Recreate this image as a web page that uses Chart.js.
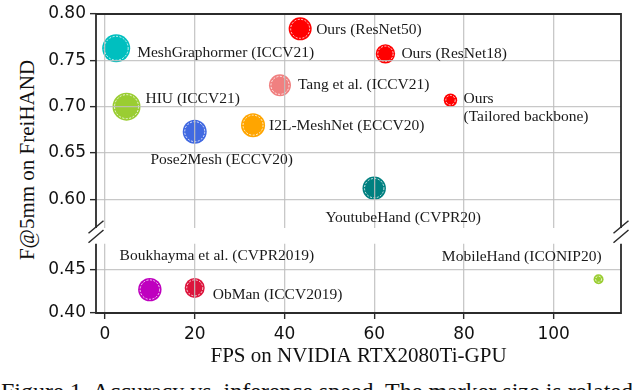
<!DOCTYPE html>
<html><head><meta charset="utf-8">
<script src="https://cdn.jsdelivr.net/npm/chart.js@4/dist/chart.umd.min.js"></script>
<style>
html,body{margin:0;padding:0;background:#fff;width:640px;height:390px;overflow:hidden;position:relative;}
#topWrap{position:absolute;left:0;top:0;width:640px;height:250px;z-index:2;}
#botWrap{position:absolute;left:0;top:232px;width:640px;height:158px;z-index:1;}
#ytitle{position:absolute;left:27px;top:160px;transform:translate(-50%,-50%) rotate(-90deg);font-family:"Liberation Serif";font-size:21px;line-height:24px;white-space:nowrap;color:#111;}
#caption{position:absolute;left:1px;top:379px;font-family:"Liberation Serif";font-size:24px;line-height:24px;white-space:nowrap;color:#111;}
</style></head>
<body>
<div id="topWrap"><canvas id="topChart"></canvas></div>
<div id="botWrap"><canvas id="botChart"></canvas></div>
<div id="ytitle">F@5mm on FreiHAND</div>
<div id="caption">Figure 1. Accuracy vs. inference speed. The marker size is related</div>
<script>
// ---- data ----
const methods = ['Ours (ResNet50)', 'Ours (ResNet18)', ['Ours', '(Tailored backbone)'], 'MeshGraphormer (ICCV21)',
  'Tang et al. (ICCV21)', 'HIU (ICCV21)', 'Pose2Mesh (ECCV20)', 'I2L-MeshNet (ECCV20)', 'YoutubeHand (CVPR20)',
  'Boukhayma et al. (CVPR2019)', 'ObMan (ICCV2019)', 'MobileHand (ICONIP20)'];
const fps = [43.5, 62.5, 77, 2.5, 39, 4.8, 20, 33, 60, 10, 20, 110];
const f5mm = [0.784, 0.757, 0.707, 0.763, 0.723, 0.700, 0.673, 0.680, 0.612, 0.427, 0.429, 0.439];
const xTicks = [0, 20, 40, 60, 80, 100];
const yTicksTop = [0.60, 0.65, 0.70, 0.75, 0.80];
const yTicksBottom = [0.40, 0.45];
const breakValue = 0.5;
const xTitle = 'FPS on NVIDIA RTX2080Ti-GPU';

// ---- styles ----
const colors = ['#ff0000', '#ff0000', '#ff0000', '#00bfbf', '#f08080', '#9acd32', '#4169e1', '#ffa500', '#008080', '#bf00bf', '#dc143c', '#9acd32'];
const markerR = [11.5, 9.7, 6.7, 14, 11, 14, 12, 12, 11.7, 11.7, 10, 5];
const labelOffsets = [[16, 1, 'left'], [16, 0, 'left'], [13, -1, 'left'], [21, 5, 'left'], [18, 0, 'left'], [19, -8, 'left'],
  [27, 28, 'center'], [16, 1, 'left'], [29, 30, 'center'], [67, -34, 'center'], [18, 7.5, 'left'], [3, -22.6, 'right']];
const tickFont = {family: 'DejaVu Sans', size: 17};
const labelFont = '15.5px "Liberation Serif"';
const spineColor = '#2b2b2b';
const gridColor = 'rgba(190,190,190,0.85)';

const decor = {
  id: 'decor',
  afterDatasetsDraw(chart) {
    const ctx = chart.ctx;
    const meta = chart.getDatasetMeta(0);
    const idx = chart.options.plugins.decor.idx;
    ctx.save();
    meta.data.forEach((el, k) => {
      const r = markerR[idx[k]];
      ctx.beginPath();
      ctx.setLineDash([2, 1.5]);
      ctx.lineWidth = 0.9;
      ctx.strokeStyle = 'rgba(255,255,255,0.9)';
      ctx.arc(el.x, el.y, Math.max(r - 2, 1.5), 0, Math.PI * 2);
      ctx.stroke();
    });
    ctx.restore();
  },
  afterDraw(chart) {
    const o = chart.options.plugins.decor;
    const ctx = chart.ctx;
    const a = chart.chartArea;
    ctx.save();
    ctx.strokeStyle = spineColor;
    ctx.lineWidth = 1.8;
    ctx.setLineDash([]);
    ctx.beginPath();
    ctx.moveTo(a.left, a.top); ctx.lineTo(a.left, a.bottom);
    ctx.moveTo(a.right, a.top); ctx.lineTo(a.right, a.bottom);
    if (o.top) { ctx.moveTo(a.left - 0.9, a.top); ctx.lineTo(a.right + 0.9, a.top); }
    if (o.bottom) { ctx.moveTo(a.left - 0.9, a.bottom); ctx.lineTo(a.right + 0.9, a.bottom); }
    ctx.stroke();
    if (o.breaks) {
      ctx.lineWidth = 1.5;
      ctx.beginPath();
      [a.left, a.right].forEach(xc => {
        [[-7.5, 5.3, 7.5, -7.3], [-7.5, 14.7, 7.5, 2]].forEach(s => {
          ctx.moveTo(xc + s[0], a.bottom + s[1]);
          ctx.lineTo(xc + s[2], a.bottom + s[3]);
        });
      });
      ctx.stroke();
    }
    // annotations
    const meta = chart.getDatasetMeta(0);
    ctx.font = labelFont;
    ctx.fillStyle = '#1a1a1a';
    ctx.textBaseline = 'middle';
    meta.data.forEach((el, k) => {
      const i = o.idx[k];
      const off = labelOffsets[i];
      ctx.textAlign = off[2];
      const lines = Array.isArray(methods[i]) ? methods[i] : [methods[i]];
      lines.forEach((t, j) => ctx.fillText(t, el.x + off[0], el.y + off[1] + j * 18));
    });
    ctx.restore();
  }
};

function makeChart(id, top) {
  const idx = fps.map((_, i) => i).filter(i => top ? f5mm[i] > breakValue : f5mm[i] <= breakValue);
  const yt = top ? yTicksTop : yTicksBottom;
  return new Chart(document.getElementById(id), {
    type: 'scatter',
    data: {datasets: [{
      data: idx.map(i => ({x: fps[i], y: f5mm[i]})),
      pointBackgroundColor: idx.map(i => colors[i]),
      pointRadius: idx.map(i => markerR[i]),
      pointHoverRadius: idx.map(i => markerR[i]),
      pointBorderWidth: 0,
      borderWidth: 0
    }]},
    options: {
      responsive: true, maintainAspectRatio: false, animation: false,
      events: [],
      layout: {padding: top ? {top: 5, right: 19, bottom: 22, left: 0} : {top: 3, right: 19, bottom: 0, left: 0}},
      plugins: {legend: {display: false}, tooltip: {enabled: false},
        decor: {idx: idx, top: top, bottom: !top, breaks: top}},
      scales: {
        x: {
          type: 'linear', min: -2, max: 115,
          afterBuildTicks: ax => { ax.ticks = xTicks.map(v => ({value: v})); },
          afterFit: ax => { ax.height = top ? 0 : 77; ax.paddingLeft = 0; ax.paddingRight = 0; },
          grid: {z: 1, color: gridColor, lineWidth: 1.3, drawTicks: !top, tickLength: 6, tickColor: spineColor, tickWidth: 1.4},
          border: {display: false},
          ticks: {display: !top, font: tickFont, color: '#111', padding: 5, maxRotation: 0},
          title: {display: !top, text: xTitle, font: {family: 'Liberation Serif', size: 21}, color: '#111', padding: {top: 0, bottom: 21}}
        },
        y: {
          type: 'linear', min: top ? 0.569 : 0.40, max: top ? 0.80 : 0.48,
          afterBuildTicks: ax => { ax.ticks = yt.map(v => ({value: v})); },
          afterFit: ax => { ax.width = 96; ax.paddingTop = 0; ax.paddingBottom = 0; },
          grid: {z: 1, color: gridColor, lineWidth: 1.3, drawTicks: true, tickLength: 6, tickColor: spineColor, tickWidth: 1.4},
          border: {display: false},
          ticks: {font: tickFont, color: '#111', padding: 4, callback: v => v.toFixed(2)}
        }
      }
    },
    plugins: [decor]
  });
}
makeChart('topChart', true);
makeChart('botChart', false);
</script>
</body></html>
